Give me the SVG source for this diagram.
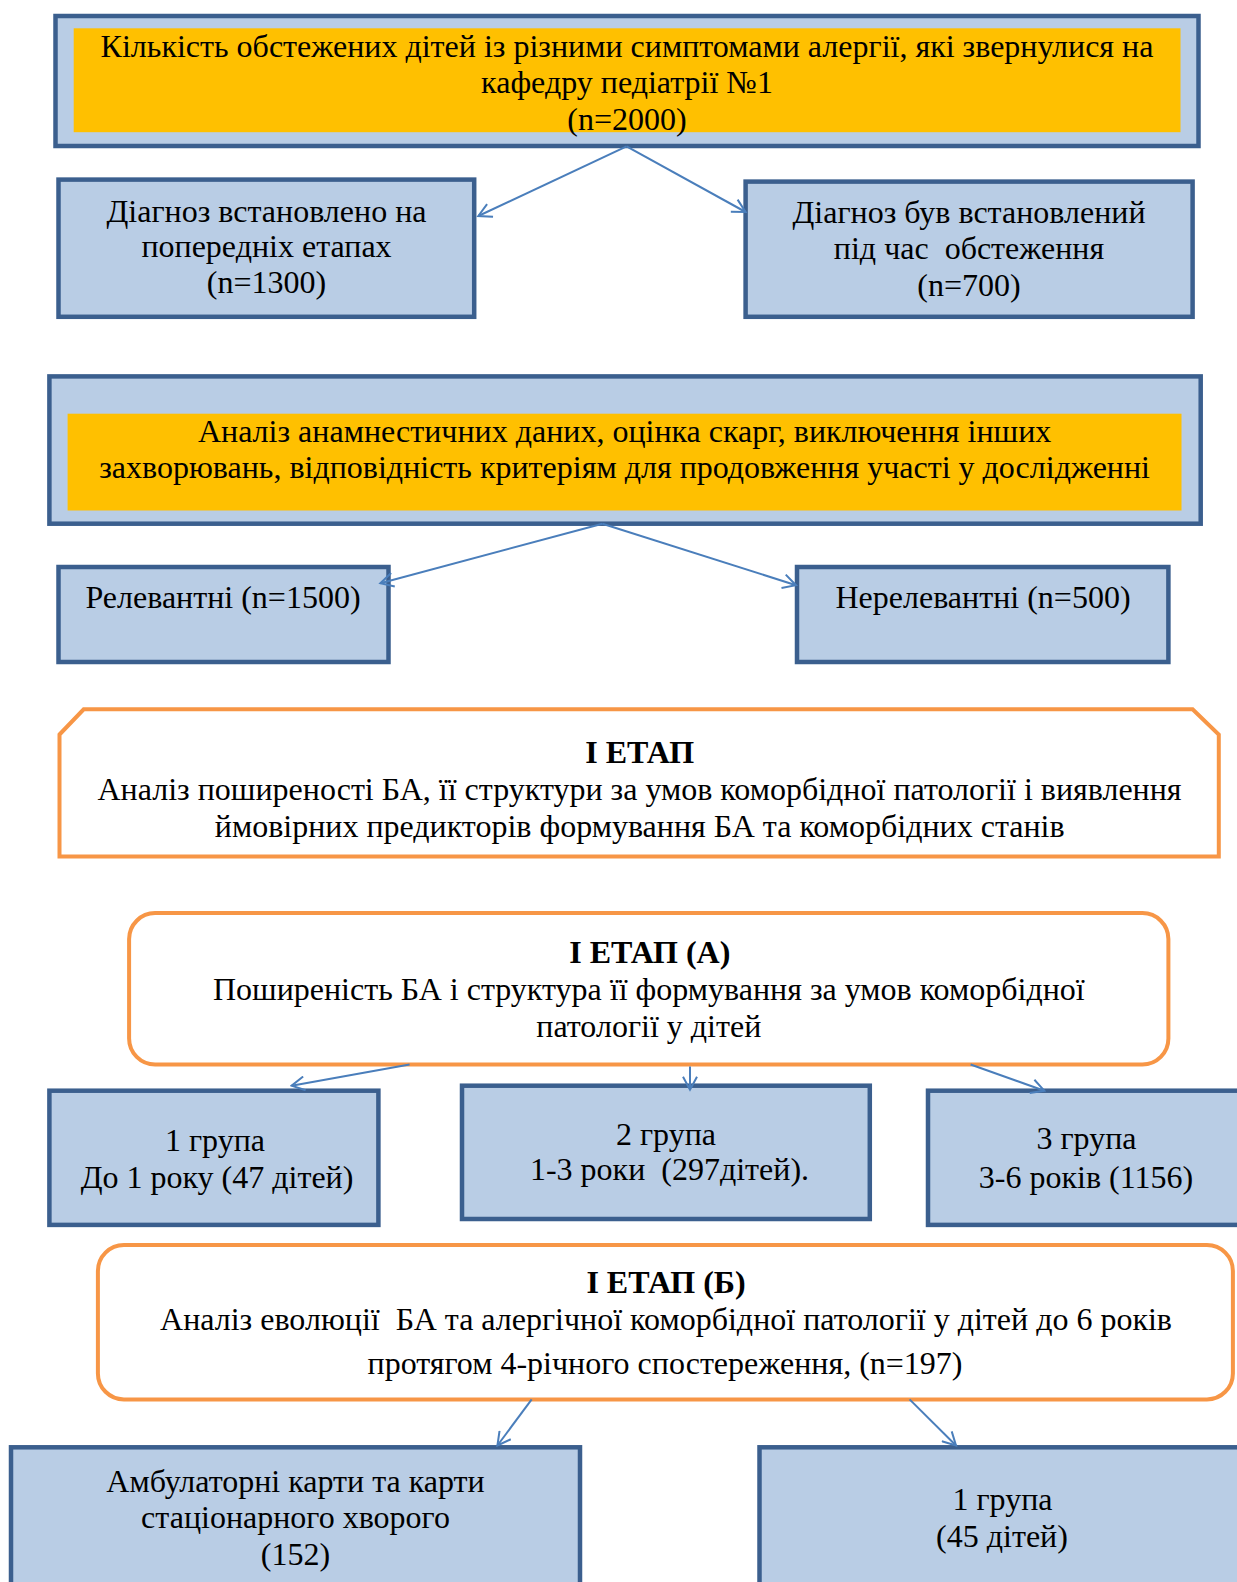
<svg xmlns="http://www.w3.org/2000/svg" width="1237" height="1582" viewBox="0 0 1237 1582">
<defs>
<marker id="arr" viewBox="0 0 16 16" refX="14" refY="8" markerWidth="16" markerHeight="16" markerUnits="userSpaceOnUse" orient="auto">
<path d="M1,1 L14,8 L1,15" fill="none" stroke="#4A7EBB" stroke-width="2"/>
</marker>
<style>
text{font-family:"Liberation Serif","Times New Roman",serif;font-size:32px;fill:#000;text-anchor:middle;white-space:pre}
.b{font-weight:bold}
.box{fill:#B9CDE5;stroke:#3B5F8E;stroke-width:4.5}
.or{fill:#FFC000}
.st{fill:#fff;stroke:#F79646;stroke-width:4}
.c{fill:none;stroke:#4A7EBB;stroke-width:2;marker-end:url(#arr)}
</style>
</defs>
<rect width="1237" height="1582" fill="#fff"/>

<g id="n-total">
<rect class="box" x="55.5" y="16" width="1143" height="130"/>
<rect class="or" x="73.7" y="28.3" width="1106.8" height="103.9"/>
<text><tspan x="627" y="57">Кількість обстежених дітей із різними симптомами алергії, які звернулися на</tspan><tspan x="627" y="93.3">кафедру педіатрії №1</tspan><tspan x="627" y="130">(n=2000)</tspan></text>
</g>

<g id="n-prev">
<rect class="box" x="58.5" y="179.6" width="415.7" height="137.2"/>
<text><tspan x="266.5" y="221.7">Діагноз встановлено на</tspan><tspan x="266.5" y="257">попередніх етапах</tspan><tspan x="266.5" y="293.3">(n=1300)</tspan></text>
</g>

<g id="n-exam">
<rect class="box" x="745.6" y="181.6" width="447" height="135.2"/>
<text><tspan x="969" y="222.7">Діагноз був встановлений</tspan><tspan x="969" y="259.3">під час  обстеження</tspan><tspan x="969" y="296">(n=700)</tspan></text>
</g>

<g id="n-analysis">
<rect class="box" x="49.4" y="376.4" width="1151.3" height="147.3"/>
<rect class="or" x="67.6" y="413.7" width="1113.9" height="96.8"/>
<text><tspan x="624.6" y="441.7">Аналіз анамнестичних даних, оцінка скарг, виключення інших</tspan><tspan x="624.6" y="478.3">захворювань, відповідність критеріям для продовження участі у дослідженні</tspan></text>
</g>

<g id="n-rel">
<rect class="box" x="58.5" y="567" width="330" height="95"/>
<text x="223" y="608.3">Релевантні (n=1500)</text>
</g>

<g id="n-irrel">
<rect class="box" x="797" y="567" width="371.4" height="95"/>
<text x="983" y="608.3">Нерелевантні (n=500)</text>
</g>

<g id="n-stage1">
<path class="st" d="M59.5,734.5 L83.7,709.3 L1192.6,709.3 L1218.8,734.5 L1218.8,856.6 L59.5,856.6 Z"/>
<text><tspan class="b" x="639.7" y="763.3">I ЕТАП</tspan><tspan x="639.5" y="800">Аналіз поширеності БА, її структури за умов коморбідної патології і виявлення</tspan><tspan x="639.7" y="836.7">ймовірних предикторів формування БА та коморбідних станів</tspan></text>
</g>

<g id="n-stageA">
<rect class="st" x="129.1" y="913.1" width="1039.3" height="151.4" rx="26" ry="26"/>
<text><tspan class="b" x="649.8" y="963.3">I ЕТАП (А)</tspan><tspan x="648.8" y="1000">Поширеність БА і структура її формування за умов коморбідної</tspan><tspan x="648.8" y="1036.7">патології у дітей</tspan></text>
</g>

<g id="n-g1">
<rect class="box" x="49.4" y="1090.7" width="329" height="134.2"/>
<text><tspan x="215" y="1150.7">1 група</tspan><tspan x="217" y="1188.3">До 1 року (47 дітей)</tspan></text>
</g>

<g id="n-g2">
<rect class="box" x="462" y="1085.7" width="407.8" height="133.3"/>
<text><tspan x="666" y="1145">2 група</tspan><tspan x="669.5" y="1180">1-3 роки  (297дітей).</tspan></text>
</g>

<g id="n-g3">
<rect class="box" x="928" y="1090.7" width="330" height="134.2"/>
<text><tspan x="1086.5" y="1149">3 група</tspan><tspan x="1086" y="1187.7">3-6 років (1156)</tspan></text>
</g>

<g id="n-stageB">
<rect class="st" x="97.9" y="1245" width="1135" height="154.4" rx="26" ry="26"/>
<text><tspan class="b" x="666" y="1293">I ЕТАП (Б)</tspan><tspan x="666" y="1330">Аналіз еволюції  БА та алергічної коморбідної патології у дітей до 6 років</tspan><tspan x="665" y="1373.5">протягом 4-річного спостереження, (n=197)</tspan></text>
</g>

<g id="n-cards">
<rect class="box" x="11" y="1447.3" width="569" height="160"/>
<text><tspan x="295.5" y="1491.7">Амбулаторні карти та карти</tspan><tspan x="295.5" y="1528.3">стаціонарного хворого</tspan><tspan x="295.5" y="1565">(152)</tspan></text>
</g>

<g id="n-b1">
<rect class="box" x="759.5" y="1447.3" width="500" height="160"/>
<text><tspan x="1002.5" y="1510">1 група</tspan><tspan x="1002" y="1547">(45 дітей)</tspan></text>
</g>

<g id="connectors">
<line class="c" x1="626.6" y1="146.3" x2="478.3" y2="216"/>
<line class="c" x1="626.6" y1="146.3" x2="745.6" y2="212"/>
<line class="c" x1="602.4" y1="523.7" x2="380.4" y2="583.2"/>
<line class="c" x1="602.4" y1="523.7" x2="796" y2="585.2"/>
<line class="c" x1="409.6" y1="1064.5" x2="291.6" y2="1085.7"/>
<line class="c" x1="690" y1="1066.5" x2="690" y2="1089.7"/>
<line class="c" x1="970.6" y1="1064.5" x2="1044.3" y2="1090.7"/>
<line class="c" x1="531.7" y1="1399.4" x2="497.4" y2="1445.5"/>
<line class="c" x1="909.6" y1="1399.4" x2="956" y2="1445.5"/>
</g>
</svg>
